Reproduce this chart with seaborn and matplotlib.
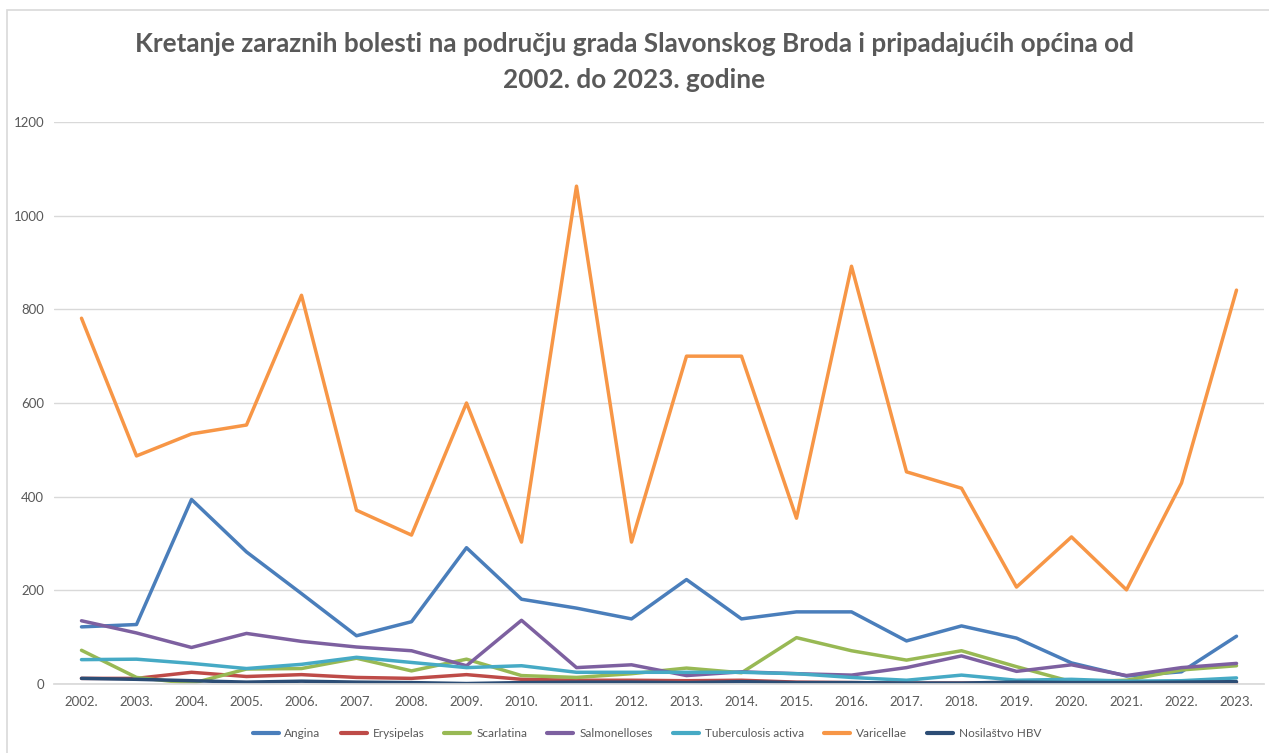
import seaborn as sns
import matplotlib.pyplot as plt
import matplotlib.patches as mpatches
import pandas as pd

# data
years = ['2002.', '2003.', '2004.', '2005.', '2006.', '2007.', '2008.', '2009.', '2010.', '2011.', '2012.',
         '2013.', '2014.', '2015.', '2016.', '2017.', '2018.', '2019.', '2020.', '2021.', '2022.', '2023.']
angina = [122, 127, 394, 282, 193, 103, 133, 291, 181, 162, 139, 223, 139, 154, 154, 92, 124, 98, 45, 17, 26, 102]
erysipelas = [12, 12, 25, 16, 20, 14, 12, 20, 10, 8, 8, 7, 8, 4, 3, 2, 2, 2, 2, 2, 2, 2]
scarlatina = [72, 14, 1, 32, 33, 55, 28, 53, 18, 14, 22, 34, 24, 99, 71, 51, 71, 37, 5, 8, 30, 39]
salmonelloses = [135, 109, 78, 108, 91, 79, 71, 39, 136, 35, 41, 18, 26, 22, 19, 35, 60, 27, 41, 18, 35, 44]
tuberculosis = [52, 53, 44, 33, 42, 57, 46, 35, 39, 25, 25, 25, 25, 22, 14, 8, 19, 8, 10, 6, 7, 13]
varicellae = [781, 487, 534, 553, 830, 371, 318, 600, 303, 1063, 303, 700, 700, 354, 892, 453, 418, 207, 314, 201, 429, 841]
hbv = [12, 10, 7, 4, 6, 4, 3, 1, 3, 4, 4, 3, 5, 3, 3, 2, 2, 4, 3, 3, 4, 5]

series = {
    'Angina': angina,
    'Erysipelas': erysipelas,
    'Scarlatina': scarlatina,
    'Salmonelloses': salmonelloses,
    'Tuberculosis activa': tuberculosis,
    'Varicellae': varicellae,
    'Nosilaštvo HBV': hbv,
}
colors = ['#4A7EBB', '#BE4B48', '#98B954', '#7D60A0', '#46AAC5', '#F79646', '#2C4D75']

rows = []
for name, vals in series.items():
    for y, v in zip(years, vals):
        rows.append({'Godina': y, 'Broj': v, 'Bolest': name})
df = pd.DataFrame(rows)

sns.set_theme(style='white')
plt.rcParams['font.family'] = ['Lato', 'DejaVu Sans']

fig = plt.figure(figsize=(12.69, 7.53), dpi=100)
ax = fig.add_axes([54 / 1269, 69 / 753, 1210 / 1269, 562 / 753])

# chart border like the Excel chart area
fig.patches.append(mpatches.Rectangle((7 / 1269, -0.1), 1.2, (753 - 10) / 753 + 0.1,
                                      transform=fig.transFigure, fill=False,
                                      edgecolor='#d9d9d9', linewidth=1.2))

sns.lineplot(data=df, x='Godina', y='Broj', hue='Bolest', palette=colors, sort=False,
             linewidth=2.5, ax=ax, legend=True)

ax.set_xlim(-0.5, len(years) - 0.5)
ax.set_ylim(0, 1200)
ax.set_yticks(range(0, 1201, 200))
ax.yaxis.grid(True, color='#d9d9d9', linewidth=1)
ax.xaxis.grid(False)
for s in ['top', 'right', 'left']:
    ax.spines[s].set_visible(False)
ax.spines['bottom'].set_color('#d9d9d9')
ax.set_xlabel('')
ax.set_ylabel('')
ax.tick_params(axis='both', labelsize=9.5, colors='#595959', length=0)
ax.tick_params(axis='x', pad=9)
ax.tick_params(axis='y', pad=7)

fig.suptitle('Kretanje zaraznih bolesti na području grada Slavonskog Broda i pripadajućih općina od\n'
             '2002. do 2023. godine', y=0.958, fontsize=18.8, fontweight='bold', color='#595959',
             linespacing=1.6)

leg = ax.legend(loc='upper center', bbox_to_anchor=(0.49, -0.06), ncol=7, frameon=False,
                fontsize=8.5, handlelength=2.2, columnspacing=1.7, handletextpad=0.5)
for t in leg.get_texts():
    t.set_color('#595959')
for l in leg.get_lines():
    l.set_linewidth(3)

fig.savefig('out.png', dpi=100)
